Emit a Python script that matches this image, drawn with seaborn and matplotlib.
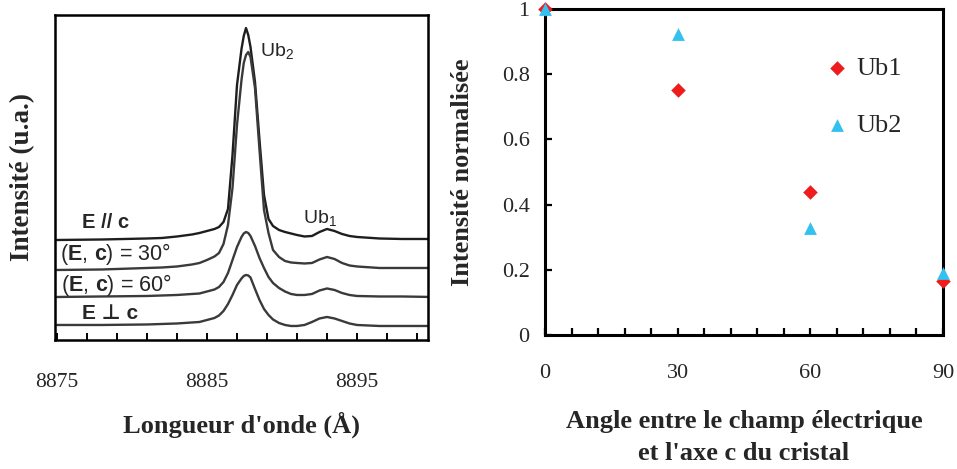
import matplotlib
matplotlib.use("Agg")
import matplotlib.pyplot as plt
import seaborn as sns
import pandas as pd

# ---------------- data ----------------
wavelength = [8875.0, 8878.0, 8881.0, 8882.0, 8883.0, 8884.0, 8884.5, 8885.0, 8885.5, 8885.8,
              8886.1, 8886.4, 8886.7, 8887.0, 8887.3, 8887.45, 8887.6, 8887.75, 8887.9, 8888.2,
              8888.5, 8888.8, 8889.1, 8889.4, 8889.8, 8890.2, 8890.6, 8891.0, 8891.5, 8892.0,
              8892.5, 8893.0, 8893.5, 8894.0, 8894.5, 8895.0, 8896.5, 8898.0, 8900.0]
spec_par = [10.0, 10.05, 10.15, 10.2, 10.35, 10.55, 10.7, 10.9, 11.1, 11.3,
            11.8, 13.1, 18.5, 25.5, 29.1, 30.4, 31.2, 30.5, 29.3, 25.8,
            20.0, 14.5, 12.1, 11.4, 11.0, 10.8, 10.65, 10.5, 10.35, 10.4,
            10.8, 11.1, 10.9, 10.6, 10.4, 10.3, 10.15, 10.1, 10.1]
spec_30 = [7.0, 7.05, 7.2, 7.25, 7.35, 7.55, 7.7, 8.0, 8.35, 8.7,
           9.6, 11.5, 15.2, 21.5, 26.0, 27.7, 28.5, 28.8, 28.3, 25.2,
           19.0, 13.0, 10.7, 9.0, 8.3, 7.9, 7.75, 7.7, 7.65, 7.7,
           8.05, 8.3, 8.1, 7.7, 7.45, 7.35, 7.2, 7.2, 7.2]
spec_60 = [4.3, 4.35, 4.4, 4.45, 4.5, 4.6, 4.65, 4.85, 5.05, 5.3,
           5.8, 6.7, 8.0, 9.3, 10.3, 10.65, 10.8, 10.7, 10.4, 9.4,
           8.2, 7.2, 6.3, 5.7, 5.2, 4.85, 4.6, 4.5, 4.5, 4.6,
           4.95, 5.15, 5.0, 4.7, 4.5, 4.4, 4.35, 4.35, 4.3]
spec_perp = [1.5, 1.5, 1.55, 1.6, 1.65, 1.75, 1.8, 2.0, 2.2, 2.45,
             2.9, 3.6, 4.5, 5.5, 6.15, 6.4, 6.5, 6.45, 6.25, 5.1,
             4.0, 3.1, 2.5, 2.05, 1.7, 1.5, 1.4, 1.4, 1.5, 1.8,
             2.15, 2.3, 2.15, 1.9, 1.65, 1.5, 1.4, 1.4, 1.4]
spec_names = ["E // c", "30", "60", "perp"]

angles = [0, 30, 60, 90]
ub1 = [1.0, 0.753, 0.44, 0.166]
ub2 = [1.0, 0.922, 0.329, 0.189]

left_ticks = [8875, 8885, 8895]
right_xticks = [0, 30, 60, 90]
right_yticks = [0, 0.2, 0.4, 0.6, 0.8, 1]
right_ylabels = ["0", "0.2", "0.4", "0.6", "0.8", "1"]

# ---------------- style ----------------
sns.set_style("white")
plt.rcParams["font.family"] = ["Liberation Serif", "DejaVu Serif"]
plt.rcParams["mathtext.fontset"] = "custom"
plt.rcParams["mathtext.rm"] = "Liberation Sans"
plt.rcParams["mathtext.bf"] = "Liberation Sans:bold"
plt.rcParams["mathtext.it"] = "Liberation Sans:italic"
plt.rcParams["lines.solid_joinstyle"] = "round"
plt.rcParams["lines.solid_capstyle"] = "round"

fig = plt.figure(figsize=(9.57, 4.69), dpi=100)
axL = fig.add_axes([0.0575, 0.2751, 0.3897, 0.6929])
axR = fig.add_axes([0.5695, 0.2857, 0.4159, 0.6951])

# ---------------- left panel ----------------
rows = []
for name, vals in zip(spec_names, [spec_par, spec_30, spec_60, spec_perp]):
    for w, v in zip(wavelength, vals):
        rows.append({"wl": w, "I": v, "curve": name})
df = pd.DataFrame(rows)
sns.lineplot(data=df, x="wl", y="I", hue="curve",
             palette=["#1e1e1e", "#3a3a3a", "#3a3a3a", "#3a3a3a"],
             estimator=None, sort=False, legend=False, lw=1.7, ax=axL)
axL.set_xlim(8874.87, 8899.73)
axL.set_ylim(0, 32.5)
axL.set_yticks([])
axL.set_xticks(left_ticks)
axL.set_xticklabels([str(t) for t in left_ticks])
axL.set_xticks(list(range(8877, 8900, 2)), minor=True)
axL.tick_params(axis="x", which="both", direction="in", length=5, width=1.4,
                color="black", bottom=True, labelsize=15.5, pad=24)
for s in axL.spines.values():
    s.set_color("black")
    s.set_linewidth(1.8)
axL.set_xlabel("Longueur d'onde (Å)", fontsize=19, fontweight="bold", labelpad=14)
axL.set_ylabel("Intensité (u.a.)", fontsize=19.5, fontweight="bold", labelpad=14)

sans = ["Liberation Sans", "DejaVu Sans"]
axL.text(8876.67, 11.7, "E // c", fontsize=14.5, fontweight="bold", family=sans,
         ha="left", va="center")
axL.text(8875.2, 8.55, r"$(\mathbf{E},\,\mathbf{c})$ = 30°", fontsize=15.5, family=sans,
         ha="left", va="center")
axL.text(8875.3, 5.5, r"$(\mathbf{E},\,\mathbf{c})$ = 60°", fontsize=15.5, family=sans,
         ha="left", va="center")
axL.text(8876.67, 2.65, "E ⊥ c", fontsize=15, fontweight="bold", family=sans,
         ha="left", va="center")
axL.text(8888.5, 28.9, r"Ub$_2$", fontsize=14, family=sans, ha="left", va="center")
axL.text(8891.4, 12.2, r"Ub$_1$", fontsize=14, family=sans, ha="left", va="center")

# ---------------- right panel ----------------
sns.scatterplot(x=angles, y=ub1, marker="D", color="#ee1c1c", s=55, linewidth=0,
                label="Ub1", ax=axR, clip_on=False, zorder=3)
sns.scatterplot(x=angles, y=ub2, marker="^", color="#33c1f0", s=85, linewidth=0,
                label="Ub2", ax=axR, clip_on=False, zorder=3)
axR.set_xlim(0, 90)
axR.set_ylim(0, 1)
axR.set_xticks(right_xticks)
axR.set_xticklabels([str(t) for t in right_xticks])
axR.set_xticks(list(range(6, 90, 6)), minor=True)
axR.set_yticks(right_yticks)
axR.set_yticklabels(right_ylabels)
axR.tick_params(axis="x", which="both", direction="in", length=5, width=1.6,
                color="black", bottom=True, labelsize=16, pad=21)
axR.tick_params(axis="y", which="both", direction="in", length=5, width=1.6,
                color="black", left=True, labelsize=16, pad=11)
for s in axR.spines.values():
    s.set_color("black")
    s.set_linewidth(2.2)
axR.set_xlabel("Angle entre le champ électrique\net l'axe c du cristal",
               fontsize=19, fontweight="bold", labelpad=19, linespacing=1.55)
axR.set_ylabel("Intensité normalisée", fontsize=19, fontweight="bold", labelpad=20)
axR.legend(loc="upper left", bbox_to_anchor=(0.70, 0.855), frameon=False,
           fontsize=19, borderaxespad=0, borderpad=0, handlelength=1.0,
           handletextpad=0.25, labelspacing=1.27, markerscale=1.0)

fig.savefig("out.png", dpi=100)
